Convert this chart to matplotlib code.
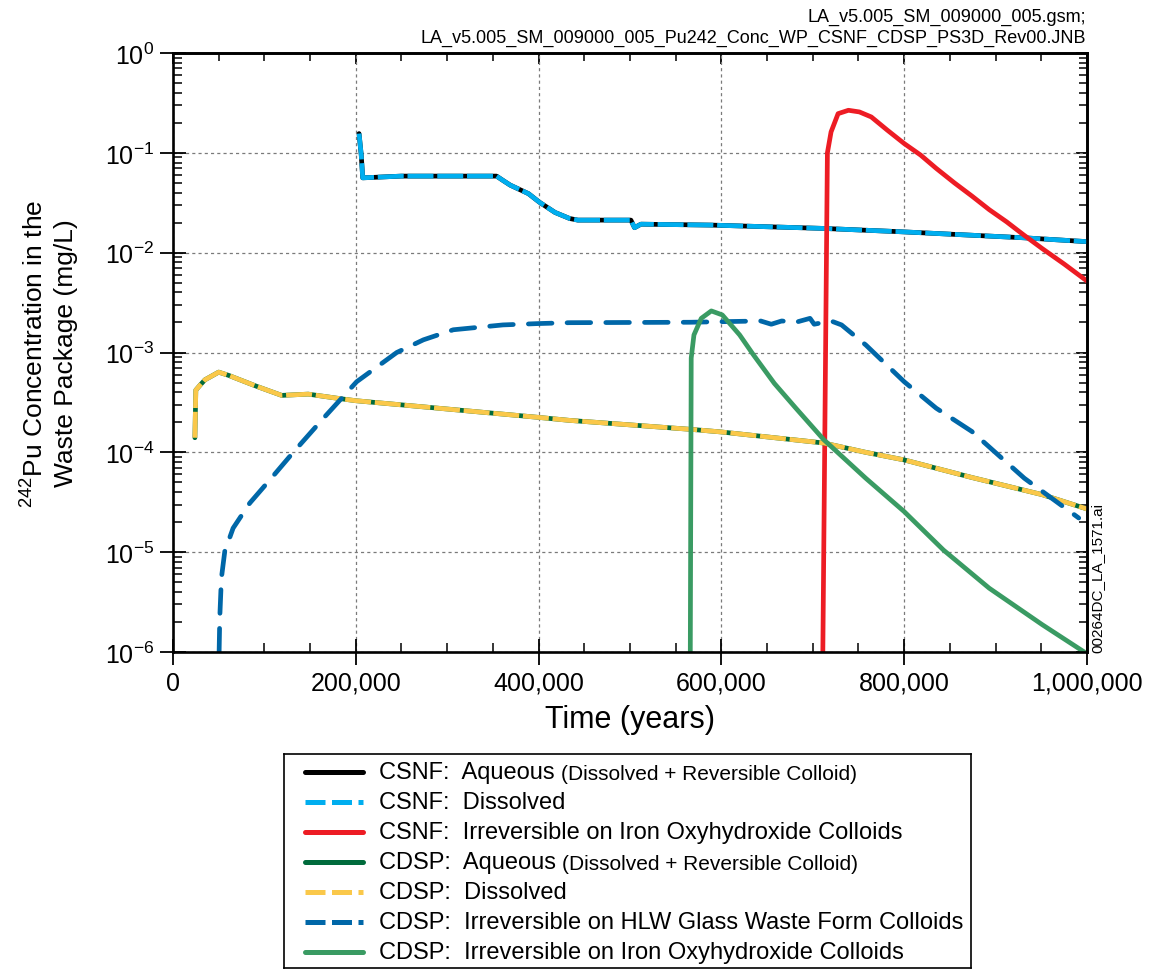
import matplotlib
matplotlib.use('Agg')
import matplotlib.pyplot as plt
from matplotlib.ticker import MultipleLocator, FuncFormatter, LogLocator, NullFormatter
from matplotlib.lines import Line2D

plt.rcParams['font.family'] = ['Liberation Sans', 'DejaVu Sans']
plt.rcParams['mathtext.fontset'] = 'custom'
plt.rcParams['mathtext.rm'] = 'Liberation Sans'
plt.rcParams['mathtext.default'] = 'regular'

# --- data (time in years, concentration in mg/L) ---
csnf_t = [203.6e3, 206e3, 207.6e3, 250e3, 300e3, 354e3, 361e3, 369e3, 389e3, 401e3,
          418e3, 434e3, 443e3, 501e3, 505e3, 512e3, 589e3, 712e3, 797e3, 931e3, 1.0e6]
csnf_aqueous = [0.156, 0.095, 0.0562, 0.0585, 0.0585, 0.0585, 0.053, 0.0475, 0.039, 0.032,
                0.0253, 0.022, 0.0212, 0.0212, 0.0178, 0.0193, 0.0189, 0.0175, 0.0162, 0.0141, 0.0129]
csnf_dissolved = [0.156, 0.095, 0.0562, 0.0585, 0.0585, 0.0585, 0.053, 0.0475, 0.039, 0.032,
                  0.0253, 0.022, 0.0212, 0.0212, 0.0178, 0.0193, 0.0189, 0.0175, 0.0162, 0.0141, 0.0129]

csnf_irr_t = [711e3, 714e3, 716e3, 720e3, 727.7e3, 739e3, 751e3, 764e3, 781.5e3, 800e3,
              818e3, 835e3, 855e3, 874e3, 893e3, 912e3, 931e3, 951e3, 975e3, 1.0e6]
csnf_irr = [1e-6, 1e-3, 0.1, 0.162, 0.247, 0.267, 0.257, 0.229, 0.169, 0.124,
            0.095, 0.07, 0.05, 0.037, 0.027, 0.0204, 0.015, 0.011, 0.0077, 0.0052]

cdsp_t = [24e3, 25e3, 30e3, 35e3, 50e3, 61e3, 92e3, 119e3, 148e3, 179e3, 200e3, 288e3,
          400e3, 434e3, 570e3, 600e3, 712e3, 758e3, 800e3, 874e3, 951e3, 1.0e6]
cdsp_aqueous = [1.4e-4, 4.2e-4, 4.75e-4, 5.33e-4, 6.36e-4, 5.9e-4, 4.57e-4, 3.72e-4, 3.83e-4,
                3.49e-4, 3.29e-4, 2.78e-4, 2.24e-4, 2.09e-4, 1.69e-4, 1.6e-4, 1.24e-4, 1.0e-4,
                8.4e-5, 5.6e-5, 3.77e-5, 2.71e-5]
cdsp_dissolved = [1.4e-4, 4.2e-4, 4.75e-4, 5.33e-4, 6.36e-4, 5.9e-4, 4.57e-4, 3.72e-4, 3.83e-4,
                  3.49e-4, 3.29e-4, 2.78e-4, 2.24e-4, 2.09e-4, 1.69e-4, 1.6e-4, 1.24e-4, 1.0e-4,
                  8.4e-5, 5.6e-5, 3.77e-5, 2.71e-5]

hlw_t = [50.5e3, 51.2e3, 53e3, 56.7e3, 65.8e3, 84e3, 106e3, 131.6e3, 164.5e3, 201e3, 244.8e3,
         274e3, 306.7e3, 361e3, 400e3, 434e3, 566e3, 643e3, 654.6e3, 666e3, 681.5e3, 697e3,
         701.5e3, 720e3, 731.5e3, 758e3, 800e3, 835e3, 874e3, 931.5e3, 991e3]
hlw_glass = [1e-6, 2.19e-6, 5.5e-6, 1.02e-5, 1.74e-5, 3.1e-5, 5.3e-5, 1e-4, 2.19e-4, 5.1e-4, 1e-3,
             1.34e-3, 1.69e-3, 1.89e-3, 1.95e-3, 1.99e-3, 2.01e-3, 2.07e-3, 1.92e-3, 2.07e-3, 2.01e-3,
             2.2e-3, 1.92e-3, 2.07e-3, 1.89e-3, 1.19e-3, 5.1e-4, 2.77e-4, 1.62e-4, 5.5e-5, 2.2e-5]

cdsp_irr_t = [566e3, 567e3, 570e3, 578e3, 589e3, 601e3, 620e3, 635e3, 658e3, 681.5e3, 712e3,
              758e3, 800e3, 843e3, 893e3, 951e3, 997e3]
cdsp_irr = [1e-6, 8.8e-4, 1.5e-3, 2.2e-3, 2.61e-3, 2.38e-3, 1.5e-3, 9.5e-4, 4.9e-4, 2.77e-4,
            1.34e-4, 5.5e-5, 2.55e-5, 1.05e-5, 4.36e-6, 1.88e-6, 1.0e-6]

x_ticks = [0, 200000, 400000, 600000, 800000, 1000000]

c_black = '#000000'
c_cyan = '#00AEEF'
c_red = '#ED1C24'
c_dkgreen = '#006B3C'
c_yellow = '#FAC84A'
c_dkblue = '#0067A8'
c_green = '#3A9B63'

lw = 3.4
dash_lt = (5.5, 0.8)
dash_blue = (5.0, 3.2)
leg_dash = (4.0, 1.3)

fig = plt.figure(figsize=(11.5, 9.7), dpi=100)
ax = fig.add_axes([0.1504, 0.3268, 0.7948, 0.6175])

ax.plot(csnf_t, csnf_aqueous, color=c_black, lw=lw, solid_capstyle='round')
ax.plot(csnf_t, csnf_dissolved, color=c_cyan, lw=lw, dashes=dash_lt)
ax.plot(csnf_irr_t, csnf_irr, color=c_red, lw=lw, solid_capstyle='round')
ax.plot(cdsp_t, cdsp_aqueous, color=c_dkgreen, lw=lw, solid_capstyle='round')
ax.plot(cdsp_t, cdsp_dissolved, color=c_yellow, lw=lw, dashes=dash_lt)
ax.plot(hlw_t, hlw_glass, color=c_dkblue, lw=lw, dashes=dash_blue, dash_capstyle='round')
ax.plot(cdsp_irr_t, cdsp_irr, color=c_green, lw=lw, solid_capstyle='round')

ax.set_yscale('log')
ax.set_xlim(0, 1e6)
ax.set_ylim(1e-6, 1)
ax.set_xticks(x_ticks)
ax.xaxis.set_minor_locator(MultipleLocator(50000))
ax.xaxis.set_major_formatter(FuncFormatter(lambda v, p: f'{int(v):,}'))
ax.yaxis.set_major_locator(LogLocator(base=10, numticks=10))
ax.yaxis.set_minor_locator(LogLocator(base=10, subs=range(2, 10), numticks=20))
ax.yaxis.set_minor_formatter(NullFormatter())

ax.grid(True, which='major', color='#7a7a7a', lw=0.9, linestyle=(0, (2.5, 2.5)))
for s in ax.spines.values():
    s.set_linewidth(1.9)
ax.tick_params(which='major', direction='inout', length=19, width=1.3, labelsize=18, pad=4)
ax.tick_params(which='minor', direction='in', length=6.5, width=1.1)

# top / right ticks point inwards only
top = ax.secondary_xaxis('top')
top.set_xticks(x_ticks)
top.xaxis.set_minor_locator(MultipleLocator(50000))
top.tick_params(which='major', direction='in', length=8, width=1.3, labeltop=False)
top.tick_params(which='minor', direction='in', length=6, width=1.1)
top.spines['top'].set_linewidth(1.9)
right = ax.secondary_yaxis('right')
right.set_yscale('log')
right.yaxis.set_major_locator(LogLocator(base=10, numticks=10))
right.yaxis.set_minor_locator(LogLocator(base=10, subs=range(2, 10), numticks=20))
right.tick_params(which='major', direction='in', length=8, width=1.3, labelright=False)
right.tick_params(which='minor', direction='in', length=6, width=1.1, labelright=False)
right.spines['right'].set_linewidth(1.9)

ax.set_xlabel('Time (years)', fontsize=22)
ax.xaxis.set_label_coords(0.5, -0.087)
ax.set_ylabel('$^{242}$Pu Concentration in the\nWaste Package (mg/L)', fontsize=19, linespacing=1.3)
ax.yaxis.set_label_coords(-0.104, 0.5)

fig.text(1086 / 1150, 1 - 17 / 970, 'LA_v5.005_SM_009000_005.gsm;', ha='right', va='center', fontsize=13)
fig.text(1086 / 1150, 1 - 38 / 970, 'LA_v5.005_SM_009000_005_Pu242_Conc_WP_CSNF_CDSP_PS3D_Rev00.JNB',
         ha='right', va='center', fontsize=13)
fig.text(1097 / 1150, 1 - 653 / 970, '00264DC_LA_1571.ai', rotation=90, ha='center', va='bottom', fontsize=11)

# legend box, built by hand because labels mix two font sizes
lg = fig.add_axes([284 / 1150, 1 / 970, 687 / 1150, 214 / 970])
lg.set_xlim(0, 1)
lg.set_ylim(0, 1)
lg.set_xticks([])
lg.set_yticks([])
for s in lg.spines.values():
    s.set_linewidth(1.2)

leg_items = [
    (c_black, None, 'CSNF:  Aqueous ', '(Dissolved + Reversible Colloid)'),
    (c_cyan, leg_dash, 'CSNF:  Dissolved', ''),
    (c_red, None, 'CSNF:  Irreversible on Iron Oxyhydroxide Colloids', ''),
    (c_dkgreen, None, 'CDSP:  Aqueous ', '(Dissolved + Reversible Colloid)'),
    (c_yellow, leg_dash, 'CDSP:  Dissolved', ''),
    (c_dkblue, leg_dash, 'CDSP:  Irreversible on HLW Glass Waste Form Colloids', ''),
    (c_green, None, 'CDSP:  Irreversible on Iron Oxyhydroxide Colloids', ''),
]
for i, (col, ds, lab, small) in enumerate(leg_items):
    yy = 0.916 - i * 0.140
    kw = dict(color=col, lw=3.6, solid_capstyle='round')
    if ds is not None:
        kw = dict(color=col, lw=3.6, dashes=ds, dash_capstyle='butt')
    lg.add_line(Line2D([0.031, 0.115], [yy, yy], **kw))
    t = lg.text(0.138, yy, lab, fontsize=17, va='center', ha='left')
    if small:
        lg.annotate(small, xy=(1, 0), xycoords=t, fontsize=15, va='bottom', ha='left')

fig.savefig('out.png', dpi=100)
